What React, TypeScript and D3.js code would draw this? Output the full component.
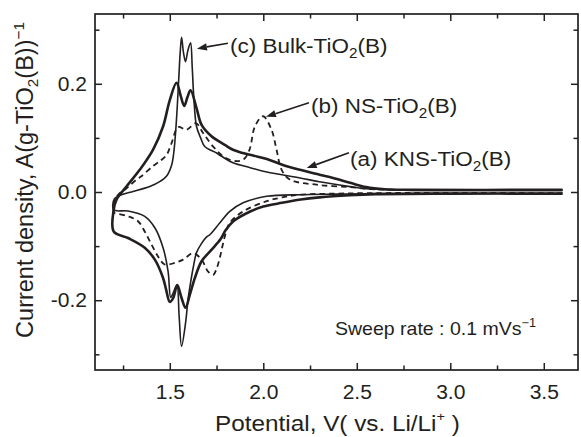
import React from "react";
import * as d3 from "d3";

const W = 581;
const H = 437;
const margin = { left: 95, right: 3, top: 14, bottom: 67 };
const ink = "#231f20";
const font = "'Liberation Sans', Arial, Helvetica, sans-serif";
const stretch = 1.08; // the scanned lettering is a little wide

// axes
const xDomain = [1.1, 3.683];
const yDomain = [-0.329, 0.329];
const xMajor = [1.5, 2.0, 2.5, 3.0, 3.5];
const xMinor = [1.25, 1.75, 2.25, 2.75, 3.25];
const yMajor = [-0.2, 0.0, 0.2];
const yMinor = [-0.3, -0.1, 0.1, 0.3];

// (a) KNS-TiO2(B), [potential V, current density]
const knsCathodic: [number, number][] = [
  [3.6, -0.003], [3.0, -0.003], [2.6, -0.004], [2.46, -0.006], [2.3, -0.01],
  [2.2, -0.014], [2.1, -0.02], [2.0, -0.027], [1.93, -0.036], [1.84, -0.054],
  [1.8, -0.07], [1.77, -0.088], [1.72, -0.108], [1.67, -0.128], [1.634, -0.159],
  [1.607, -0.19], [1.584, -0.214], [1.563, -0.196], [1.54, -0.172], [1.518, -0.196],
  [1.5, -0.203], [1.48, -0.18], [1.464, -0.159], [1.42, -0.125], [1.366, -0.103],
  [1.277, -0.085], [1.2, -0.073],
];
const knsAnodic: [number, number][] = [
  [1.2, -0.033], [1.215, -0.014], [1.268, 0.01], [1.339, 0.041], [1.41, 0.078],
  [1.464, 0.121], [1.5, 0.17], [1.536, 0.202], [1.558, 0.178], [1.577, 0.159],
  [1.595, 0.176], [1.611, 0.188], [1.643, 0.155], [1.67, 0.124], [1.723, 0.103],
  [1.794, 0.087], [1.838, 0.078], [1.891, 0.072], [1.95, 0.067], [2.019, 0.061],
  [2.105, 0.05], [2.196, 0.041], [2.3, 0.032], [2.373, 0.026], [2.464, 0.017],
  [2.55, 0.009], [2.65, 0.005], [2.8, 0.004], [3.6, 0.004],
];

// (b) NS-TiO2(B)
const nsCathodic: [number, number][] = [
  [3.6, -0.002], [2.6, -0.002], [2.4, -0.003], [2.196, -0.005], [2.1, -0.01],
  [2.018, -0.017], [1.892, -0.036], [1.821, -0.057], [1.8, -0.075], [1.783, -0.098],
  [1.77, -0.118], [1.752, -0.14], [1.732, -0.153], [1.705, -0.147], [1.67, -0.125],
  [1.625, -0.113], [1.571, -0.125], [1.527, -0.131], [1.473, -0.134], [1.437, -0.119],
  [1.402, -0.097], [1.366, -0.073], [1.33, -0.054], [1.277, -0.045], [1.206, -0.039],
  [1.2, -0.038],
];
const nsAnodic: [number, number][] = [
  [1.2, -0.038], [1.21, -0.012], [1.232, -0.002], [1.259, 0.004], [1.322, 0.023],
  [1.348, 0.029], [1.41, 0.048], [1.45, 0.058], [1.482, 0.068], [1.509, 0.09],
  [1.545, 0.12], [1.589, 0.115], [1.64, 0.127], [1.678, 0.109], [1.732, 0.084],
  [1.794, 0.064], [1.859, 0.057], [1.9, 0.062], [1.928, 0.08], [1.955, 0.121],
  [1.999, 0.14], [2.044, 0.115], [2.071, 0.078], [2.098, 0.041], [2.142, 0.023],
  [2.285, 0.0135], [2.464, 0.009], [2.6, 0.005], [3.6, 0.004],
];

// (c) Bulk-TiO2(B)
const bulkCathodic: [number, number][] = [
  [3.6, -0.003], [2.6, -0.003], [2.4, -0.004], [2.2, -0.005], [2.018, -0.008],
  [1.892, -0.02], [1.821, -0.036], [1.768, -0.057], [1.714, -0.079], [1.697, -0.083],
  [1.67, -0.095], [1.643, -0.112], [1.625, -0.14], [1.61, -0.17], [1.597, -0.2],
  [1.585, -0.24], [1.563, -0.285], [1.55, -0.23], [1.538, -0.172], [1.52, -0.185],
  [1.505, -0.195], [1.491, -0.147], [1.464, -0.103], [1.42, -0.066], [1.366, -0.045],
  [1.277, -0.035], [1.2, -0.033],
];
const bulkAnodic: [number, number][] = [
  [1.2, -0.033], [1.205, -0.012], [1.25, -0.004], [1.304, 0.001], [1.393, 0.01],
  [1.45, 0.02], [1.482, 0.029], [1.51, 0.05], [1.522, 0.075], [1.535, 0.13],
  [1.548, 0.21], [1.556, 0.26], [1.563, 0.286], [1.573, 0.258], [1.584, 0.241],
  [1.597, 0.262], [1.611, 0.276], [1.62, 0.23], [1.628, 0.177], [1.643, 0.121],
  [1.665, 0.1], [1.687, 0.084], [1.75, 0.072], [1.777, 0.066], [1.838, 0.054],
  [1.93, 0.045], [2.019, 0.037], [2.196, 0.026], [2.3, 0.019], [2.464, 0.01],
  [2.55, 0.006], [2.7, 0.004], [3.6, 0.003],
];

// label anchors in data units: text start, arrow start, arrow tip
const labelC = { text: [1.822, 0.257], from: [1.811, 0.275], to: [1.645, 0.265] };
const labelB = { text: [2.255, 0.146], from: [2.244, 0.165], to: [2.014, 0.139] };
const labelA = { text: [2.464, 0.0486], from: [2.458, 0.0726], to: [2.232, 0.0443] };
const sweepAt = [2.383, -0.265];

const joinLoop = (cath: [number, number][], anod: [number, number][]) => {
  const pts = [...cath];
  anod.forEach((p) => {
    const last = pts[pts.length - 1];
    if (last[0] !== p[0] || last[1] !== p[1]) pts.push(p);
  });
  return pts;
};

const App = () => {
  const x = d3
    .scaleLinear()
    .domain(xDomain)
    .range([margin.left, W - margin.right]);
  const y = d3
    .scaleLinear()
    .domain(yDomain)
    .range([H - margin.bottom, margin.top]);

  const line = d3
    .line<[number, number]>()
    .x((d) => x(d[0]))
    .y((d) => y(d[1]))
    .curve(d3.curveCatmullRom.alpha(0.5));

  const x0 = x(xDomain[0]);
  const x1 = x(xDomain[1]);
  const y0 = y(yDomain[0]);
  const y1 = y(yDomain[1]);

  const styleAxis = (g: any, size: number) => {
    g.select(".domain").remove();
    g.selectAll(".tick line").attr("stroke", ink).attr("stroke-width", 1.5);
    g.selectAll(".tick text")
      .attr("fill", ink)
      .attr("transform", `scale(${stretch},1)`);
    g.attr("font-size", size).attr("font-family", font);
  };

  const arrow = (l: any) => {
    const fx = x(l.from[0]);
    const fy = y(l.from[1]);
    const tx = x(l.to[0]);
    const ty = y(l.to[1]);
    const ang = Math.atan2(ty - fy, tx - fx);
    const len = 10;
    const hw = 3.6;
    const bx = tx - len * Math.cos(ang);
    const by = ty - len * Math.sin(ang);
    const px = -Math.sin(ang) * hw;
    const py = Math.cos(ang) * hw;
    return (
      <g>
        <line x1={fx} y1={fy} x2={bx} y2={by} stroke={ink} strokeWidth={1.6} />
        <polygon
          points={`${tx},${ty} ${bx + px},${by + py} ${bx - px},${by - py}`}
          fill={ink}
        />
      </g>
    );
  };

  const sub = (t: string) => (
    <>
      <tspan fontSize="0.68em" dy="5">{t}</tspan>
      <tspan dy="-5">(B)</tspan>
    </>
  );

  const label = (at: number[], sx: number, size: number, body: any) => (
    <g transform={`translate(${x(at[0])},${y(at[1])}) scale(${sx},1)`}>
      <text fontSize={size} fill={ink}>
        {body}
      </text>
    </g>
  );

  return (
    <svg
      width={W}
      height={H}
      style={{ position: "absolute", left: 0, top: 0, background: "#fff" }}
      fontFamily={font}
    >
      {/* bottom axis */}
      <g
        transform={`translate(0,${y0})`}
        ref={(node) => {
          if (!node) return;
          const g = d3.select(node);
          g.selectAll("*").remove();
          g.append("g").call(
            d3.axisBottom(x).tickValues(xMajor).tickSize(-7).tickPadding(15.5)
              .tickFormat((d: any) => d.toFixed(1))
          ).call((s: any) => styleAxis(s, 19.5));
          g.append("g").call(
            d3.axisBottom(x).tickValues(xMinor).tickSize(-4.5).tickFormat(() => "")
          ).call((s: any) => styleAxis(s, 10));
        }}
      />
      {/* top axis */}
      <g
        transform={`translate(0,${y1})`}
        ref={(node) => {
          if (!node) return;
          const g = d3.select(node);
          g.selectAll("*").remove();
          g.append("g").call(
            d3.axisTop(x).tickValues(xMajor).tickSize(-7).tickFormat(() => "")
          ).call((s: any) => styleAxis(s, 10));
          g.append("g").call(
            d3.axisTop(x).tickValues(xMinor).tickSize(-4.5).tickFormat(() => "")
          ).call((s: any) => styleAxis(s, 10));
        }}
      />
      {/* left axis */}
      <g
        transform={`translate(${x0},0)`}
        ref={(node) => {
          if (!node) return;
          const g = d3.select(node);
          g.selectAll("*").remove();
          g.append("g").call(
            d3.axisLeft(y).tickValues(yMajor).tickSize(-7).tickPadding(8 / stretch)
              .tickFormat((d: any) => d.toFixed(1))
          ).call((s: any) => styleAxis(s, 19.5));
          g.append("g").call(
            d3.axisLeft(y).tickValues(yMinor).tickSize(-4.5).tickFormat(() => "")
          ).call((s: any) => styleAxis(s, 10));
        }}
      />
      {/* right axis */}
      <g
        transform={`translate(${x1},0)`}
        ref={(node) => {
          if (!node) return;
          const g = d3.select(node);
          g.selectAll("*").remove();
          g.append("g").call(
            d3.axisRight(y).tickValues(yMajor).tickSize(-7).tickFormat(() => "")
          ).call((s: any) => styleAxis(s, 10));
          g.append("g").call(
            d3.axisRight(y).tickValues(yMinor).tickSize(-4.5).tickFormat(() => "")
          ).call((s: any) => styleAxis(s, 10));
        }}
      />
      <rect
        x={x0}
        y={y1}
        width={x1 - x0}
        height={y0 - y1}
        fill="none"
        stroke={ink}
        strokeWidth={1.7}
      />

      {/* curves */}
      <path
        d={line(joinLoop(bulkCathodic, bulkAnodic)) || ""}
        fill="none"
        stroke={ink}
        strokeWidth={1.6}
        strokeLinejoin="round"
      />
      <path
        d={line(joinLoop(nsCathodic, nsAnodic)) || ""}
        fill="none"
        stroke={ink}
        strokeWidth={1.8}
        strokeDasharray="5.5,4"
      />
      <path
        d={line(joinLoop(knsCathodic, knsAnodic)) || ""}
        fill="none"
        stroke={ink}
        strokeWidth={2.6}
        strokeLinejoin="round"
      />

      {/* annotations */}
      {arrow(labelC)}
      {arrow(labelB)}
      {arrow(labelA)}
      {label(labelC.text, 1.07, 21, <>(c) Bulk-TiO{sub("2")}</>)}
      {label(labelB.text, 1.07, 21, <>(b) NS-TiO{sub("2")}</>)}
      {label(labelA.text, 1.07, 21, <>(a) KNS-TiO{sub("2")}</>)}
      {label(
        sweepAt,
        1.05,
        18.6,
        <>
          Sweep rate : 0.1 mVs<tspan fontSize="0.65em" dy="-8">−1</tspan>
        </>
      )}

      {/* axis titles */}
      <g transform={`translate(${(x0 + x1) / 2 + 1},431) scale(1.08,1)`}>
        <text textAnchor="middle" fontSize={22.5} fill={ink}>
          Potential, V( vs. Li/Li<tspan fontSize="0.6em" dy="-10">+</tspan>
          <tspan dy="10"> )</tspan>
        </text>
      </g>
      <text
        transform={`translate(33,${(y0 + y1) / 2 - 12}) rotate(-90)`}
        textAnchor="middle"
        fontSize={23.5}
        fill={ink}
      >
        Current density, A(g-TiO<tspan fontSize="0.65em" dy="5">2</tspan>
        <tspan dy="-5">(B))</tspan>
        <tspan fontSize="0.65em" dy="-9">−1</tspan>
      </text>
    </svg>
  );
};

export default App;
